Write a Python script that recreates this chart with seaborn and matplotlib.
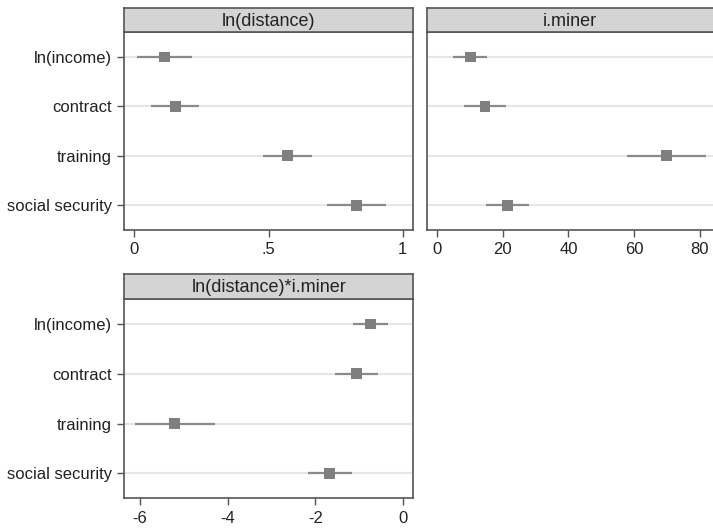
import matplotlib
matplotlib.use("Agg")
import matplotlib.pyplot as plt
import pandas as pd
import seaborn as sns

# coefficient estimates with 95% CI
variables = ["ln(income)", "contract", "training", "social security"]
panels = ["ln(distance)", "i.miner", "ln(distance)*i.miner"]

dist_coef = [0.114, 0.153, 0.570, 0.827]
dist_lo = [0.009, 0.062, 0.481, 0.717]
dist_hi = [0.216, 0.241, 0.660, 0.937]

miner_coef = [10.2, 14.6, 69.8, 21.4]
miner_lo = [5.0, 8.3, 57.9, 14.9]
miner_hi = [15.3, 20.9, 81.7, 28.1]

inter_coef = [-0.73, -1.06, -5.22, -1.67]
inter_lo = [-1.13, -1.55, -6.11, -2.16]
inter_hi = [-0.33, -0.57, -4.30, -1.16]

xticks = [[0, 0.5, 1], [0, 20, 40, 60, 80], [-6, -4, -2, 0]]
xticklabels = [["0", ".5", "1"], ["0", "20", "40", "60", "80"], ["-6", "-4", "-2", "0"]]
xlims = [(-0.037, 1.039), (-2.95, 86.1), (-6.36, 0.24)]

df = pd.DataFrame({
    "panel": [p for p in panels for _ in variables],
    "variable": variables * 3,
    "coef": dist_coef + miner_coef + inter_coef,
    "lo": dist_lo + miner_lo + inter_lo,
    "hi": dist_hi + miner_hi + inter_hi,
})
df["row"] = df["variable"].map({v: i for i, v in enumerate(variables)})

sns.set_theme(style="white")
plt.rcParams["font.family"] = ["Liberation Sans", "DejaVu Sans"]

W, H = 713, 528
fig = plt.figure(figsize=(W / 100, H / 100), dpi=100)

# pixel boxes: (left, right, header top, axes top, axes bottom)
# the i.miner panel runs past the right edge of the image, as in the reference
boxes = [
    (124.3, 413.3, 8.3, 32.3, 230.0),
    (427.3, 720.0, 8.3, 32.3, 230.0),
    (124.3, 413.3, 274.0, 299.0, 498.3),
]

edge = "#555555"
for i, panel in enumerate(panels):
    l, r, ht, at, ab = boxes[i]
    ax = fig.add_axes([l / W, 1 - ab / H, (r - l) / W, (ab - at) / H])
    hx = fig.add_axes([l / W, 1 - at / H, (r - l) / W, (at - ht) / H])
    hx.set_facecolor("#d4d4d4")
    hx.set_xticks([])
    hx.set_yticks([])
    for s in hx.spines.values():
        s.set_color(edge)
        s.set_linewidth(1.2)
    # centre the title on the visible part of the header
    cx = 0.5 if r <= W else ((l + W) / 2 - l) / (r - l)
    hx.text(cx, 0.45, panel, ha="center", va="center", fontsize=13, color="#222222",
            transform=hx.transAxes)

    sub = df[df["panel"] == panel]
    for row in range(len(variables)):
        ax.axhline(row, color="#e6e6e6", lw=1.5, zorder=0)
    ax.hlines(sub["row"], sub["lo"], sub["hi"], color="#8a8a8a", lw=1.6, zorder=2)
    sns.scatterplot(data=sub, x="coef", y="row", marker="s", s=60, color="#7f7f7f",
                    edgecolor="none", ax=ax, zorder=3, legend=False)

    ax.set_xlim(*xlims[i])
    ax.set_ylim(len(variables) - 0.5, -0.5)
    ax.set_xticks(xticks[i])
    ax.set_xticklabels(xticklabels[i])
    ax.set_yticks(range(len(variables)))
    if i == 1:
        ax.set_yticklabels([])
        ax.tick_params(axis="y", length=0)
    else:
        ax.set_yticklabels(variables)
    ax.set_xlabel("")
    ax.set_ylabel("")
    ax.tick_params(axis="both", direction="out", length=5, width=1, color=edge,
                   labelsize=12, labelcolor="#222222", pad=4, left=(i != 1), bottom=True)
    for s in ax.spines.values():
        s.set_color(edge)
        s.set_linewidth(1.2)

fig.savefig("out.png", dpi=100)
